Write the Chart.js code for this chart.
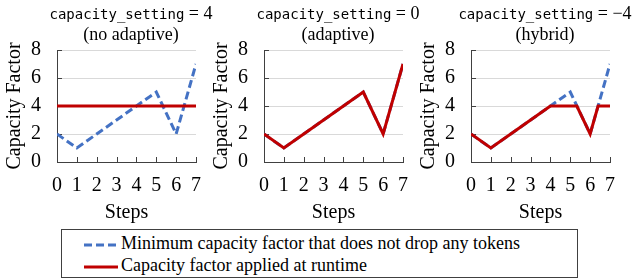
<!DOCTYPE html>
<html>
<head>
<meta charset="utf-8">
<script src="https://cdn.jsdelivr.net/npm/chart.js@4/dist/chart.umd.min.js"></script>
<style>
    body { margin: 0; width: 632px; height: 279px; background: #fff; position: relative; overflow: hidden; font-family: 'Liberation Serif', 'Times New Roman', serif; color: #000; }
    canvas.panel { position: absolute; top: 0; }
    .title { position: absolute; width: 220px; text-align: center; font-size: 18px; white-space: nowrap; height: 22px; line-height: 22px; }
    .mono { font-family: 'DejaVu Sans Mono', monospace; font-size: 14px; }
    #legend { position: absolute; left: 61px; top: 229px; width: 515px; height: 47px; border: 1px solid #404040; font-size: 18px; }
    .row { position: absolute; left: 22px; height: 22px; line-height: 22px; white-space: nowrap; }
    .row svg { vertical-align: middle; margin-right: 3px; }
</style>
</head>
<body>
<canvas id="panel1" class="panel" width="213" height="225" style="left:0px"></canvas>
<canvas id="panel2" class="panel" width="213" height="225" style="left:207px"></canvas>
<canvas id="panel3" class="panel" width="213" height="225" style="left:414px"></canvas>

<div class="title" style="left:21px; top:2px"><span class="mono">capacity_setting</span> = 4</div>
<div class="title" style="left:21px; top:23px">(no adaptive)</div>
<div class="title" style="left:228px; top:2px"><span class="mono">capacity_setting</span> = 0</div>
<div class="title" style="left:228px; top:23px">(adaptive)</div>
<div class="title" style="left:435px; top:2px"><span class="mono">capacity_setting</span> = &minus;4</div>
<div class="title" style="left:435px; top:23px">(hybrid)</div>

<div id="legend">
    <div class="row" style="top:2px"><svg width="34" height="6"><line x1="0" y1="3" x2="34" y2="3" stroke="#4472C4" stroke-width="3" stroke-dasharray="8 4"/></svg>Minimum capacity factor that does not drop any tokens</div>
    <div class="row" style="top:24px"><svg width="34" height="6"><line x1="0" y1="3" x2="34" y2="3" stroke="#C00000" stroke-width="3"/></svg>Capacity factor applied at runtime</div>
</div>

<script>
// Data
const steps = [0, 1, 2, 3, 4, 5, 6, 7];
const minCapacity = [2, 1, 2, 3, 4, 5, 2, 7];
const appliedNoAdaptive = [4, 4, 4, 4, 4, 4, 4, 4];
const appliedAdaptive = [2, 1, 2, 3, 4, 5, 2, 7];
const hybridSteps = [0, 1, 2, 3, 4, 5.33, 6, 6.4, 7];
const appliedHybrid = [2, 1, 2, 3, 4, 4, 2, 4, 4];
const yMax = 8;
const yStep = 2;

const BLUE = '#4472C4';
const RED = '#C00000';
const AXIS = '#404040';
const FONT = "'Liberation Serif', 'Times New Roman', serif";

function toPoints(xs, ys) {
    return xs.map((x, i) => ({ x: x, y: ys[i] }));
}

// small tick marks drawn inside the plot area
const innerTicks = {
    id: 'innerTicks',
    beforeDatasetsDraw(chart) {
        const ctx = chart.ctx;
        const area = chart.chartArea;
        const xs = chart.scales.x;
        const ys = chart.scales.y;
        ctx.save();
        ctx.strokeStyle = AXIS;
        ctx.lineWidth = 1;
        ctx.beginPath();
        xs.ticks.forEach(t => {
            const px = Math.round(xs.getPixelForValue(t.value)) + 0.5;
            ctx.moveTo(px, area.bottom);
            ctx.lineTo(px, area.bottom - 5);
        });
        ys.ticks.forEach(t => {
            const py = Math.round(ys.getPixelForValue(t.value)) + 0.5;
            ctx.moveTo(area.left, py);
            ctx.lineTo(area.left + 5, py);
        });
        ctx.stroke();
        ctx.restore();
    }
};

function makePanel(id, appliedX, appliedY) {
    const ctx = document.getElementById(id).getContext('2d');
    return new Chart(ctx, {
        type: 'line',
        data: {
            datasets: [{
                label: 'Capacity factor applied at runtime',
                data: toPoints(appliedX, appliedY),
                borderColor: RED,
                borderWidth: 3,
                pointRadius: 0,
                tension: 0
            }, {
                label: 'Minimum capacity factor that does not drop any tokens',
                data: toPoints(steps, minCapacity),
                borderColor: BLUE,
                borderWidth: 3,
                borderDash: [8, 4],
                pointRadius: 0,
                tension: 0
            }]
        },
        options: {
            responsive: false,
            animation: false,
            layout: { padding: { top: 50, right: 8, left: 0, bottom: 0 } },
            plugins: { legend: { display: false }, tooltip: { enabled: false } },
            scales: {
                x: {
                    type: 'linear',
                    min: steps[0],
                    max: steps[steps.length - 1],
                    ticks: { stepSize: 1, autoSkip: false, padding: 12, color: '#000', font: { family: FONT, size: 20 } },
                    grid: { color: 'rgba(0,0,0,0)', drawTicks: false },
                    border: { color: AXIS, width: 1 },
                    title: { display: true, text: 'Steps', color: '#000', font: { family: FONT, size: 20 }, padding: { top: 0, bottom: 0 } },
                    afterFit(scale) { scale.height = 63; }
                },
                y: {
                    min: 0,
                    max: yMax,
                    ticks: { stepSize: yStep, padding: 16, color: '#000', font: { family: FONT, size: 20 } },
                    grid: {
                        color: c => (c.tick && c.tick.value === 0) ? 'rgba(0,0,0,0)' : '#d9d9d9',
                        drawTicks: false
                    },
                    border: { color: AXIS, width: 1 },
                    title: { display: true, text: 'Capacity Factor', color: '#000', font: { family: FONT, size: 20 }, padding: { top: 3, bottom: 0 } },
                    afterFit(scale) { scale.width = 57; }
                }
            }
        },
        plugins: [innerTicks]
    });
}

document.addEventListener('DOMContentLoaded', () => {
    makePanel('panel1', steps, appliedNoAdaptive);
    makePanel('panel2', steps, appliedAdaptive);
    makePanel('panel3', hybridSteps, appliedHybrid);
});
</script>
</body>
</html>
